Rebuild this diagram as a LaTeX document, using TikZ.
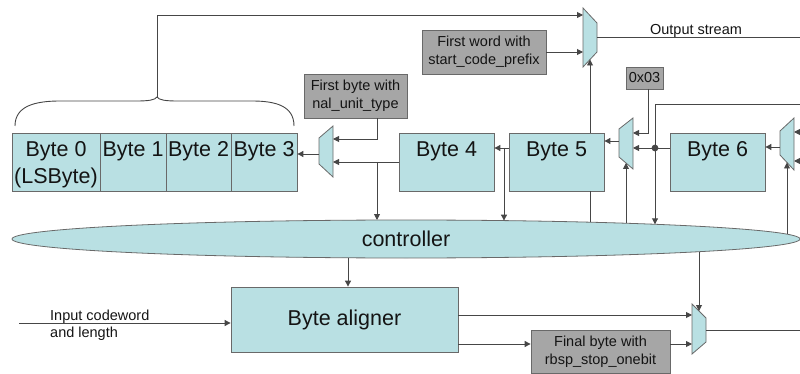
\documentclass[tikz,border=0pt]{standalone}
\usepackage{fontspec}
\setmainfont{Liberation Sans}
\usetikzlibrary{shapes.geometric,arrows.meta}
\definecolor{cfill}{RGB}{185,224,227}
\definecolor{gfill}{RGB}{166,166,166}
\definecolor{bline}{RGB}{105,105,105}
\definecolor{wline}{RGB}{70,70,70}
\definecolor{tcol}{RGB}{20,20,20}
\newcommand\bigf{\fontsize{21.5}{27}\selectfont}
\newcommand\smf{\fontsize{14.5}{18.5}\selectfont}
\begin{document}
\begin{tikzpicture}[x=1pt,y=-1pt,
  cbox/.style={draw=bline, fill=cfill, line width=0.8pt, inner sep=0pt},
  gbox/.style={draw=bline, fill=gfill, line width=0.8pt, inner sep=0pt, align=center, font=\smf, text=tcol},
  btxt/.style={font=\bigf, anchor=base, inner sep=0pt, text=tcol},
  stxt/.style={font=\smf, inner sep=0pt, text=tcol},
  wire/.style={draw=wline, line width=0.9pt},
  arr/.style={wire, -{Triangle[length=6pt,width=6pt]}},
  muxs/.style={draw=bline, fill=cfill, line width=0.8pt, line join=miter}
]
\useasboundingbox (0,0) rectangle (800,374);

% ---- byte registers
\node[cbox, minimum width=88pt, minimum height=58pt] (b0) at (56,162) {};
\node[cbox, minimum width=66pt, minimum height=58pt] (b1) at (133,162) {};
\node[cbox, minimum width=65pt, minimum height=58pt] (b2) at (198.5,162) {};
\node[cbox, minimum width=66pt, minimum height=58pt] (b3) at (264,162) {};
\node[cbox, minimum width=95pt, minimum height=58pt] (b4) at (446.5,162) {};
\node[cbox, minimum width=95pt, minimum height=58pt] (b5) at (556.5,162) {};
\node[cbox, minimum width=95pt, minimum height=58pt] (b6) at (717.5,162) {};
\node[btxt] (t0) at (56,157) {Byte 0};
\node[btxt] (t0b) at (56,184) {(LSByte)};
\node[btxt] (t1) at (133,157) {Byte 1};
\node[btxt] (t2) at (198.5,157) {Byte 2};
\node[btxt] (t3) at (264,157) {Byte 3};
\node[btxt] (t4) at (446.5,157) {Byte 4};
\node[btxt] (t5) at (556.5,157) {Byte 5};
\node[btxt] (t6) at (717.5,157) {Byte 6};

% ---- grey constant boxes
\node[gbox, minimum width=103pt, minimum height=44pt] (nal) at (355.5,96) {First byte with\\nal\_unit\_type};
\node[gbox, minimum width=124pt, minimum height=44pt] (fw) at (484,52) {First word with\\start\_code\_prefix};
\node[gbox, minimum width=37pt, minimum height=22pt] (ox) at (644.5,78) {0x03};
\node[gbox, minimum width=139pt, minimum height=43pt] (fin) at (600.5,351.5) {Final byte with\\rbsp\_stop\_onebit};

% ---- controller and aligner
\node[ellipse, draw=bline, fill=cfill, line width=0.8pt, inner sep=0pt,
      minimum width=788pt, minimum height=38pt, font=\bigf, text=tcol] (ctrl) at (406,239) {controller};
\node[cbox, minimum width=227pt, minimum height=65pt, font=\bigf, text=tcol] (al) at (344.5,319.5) {Byte aligner};

% ---- multiplexers
\draw[muxs] (583,8) -- (597,23) -- (597,52) -- (583,67) -- cycle;
\draw[muxs] (333,126) -- (333,177) -- (319,164) -- (319,138) -- cycle;
\draw[muxs] (633,118) -- (633,169) -- (619,157) -- (619,129) -- cycle;
\draw[muxs] (794,118) -- (794,170) -- (780,155) -- (780,131) -- cycle;
\draw[muxs] (692,304) -- (706,318) -- (706,342) -- (692,354) -- cycle;

% ---- ports and points
\coordinate (mT1) at (583,15);  \coordinate (mT2) at (583,52);
\coordinate (mTo) at (597,37);  \coordinate (mTb) at (590,59.5);
\coordinate (mA1) at (333,139); \coordinate (mA2) at (333,162);
\coordinate (mAo) at (319,154);
\coordinate (mB1) at (633,133); \coordinate (mB2) at (633,148);
\coordinate (mBo) at (619,141); \coordinate (mBb) at (626,163);
\coordinate (mC1) at (794,132); \coordinate (mC2) at (794,161);
\coordinate (mCo) at (780,147); \coordinate (mCb) at (787,162.5);
\coordinate (mD1) at (692,315); \coordinate (mD2) at (692,344);
\coordinate (mDo) at (706,330); \coordinate (mDt) at (699,311);
\coordinate (c377) at (377,220);   \coordinate (c504) at (504,220.6);
\coordinate (c590) at (590,222.2); \coordinate (c626) at (626,223.2);
\coordinate (c655) at (655,224.3); \coordinate (c787) at (787,234.2);
\coordinate (c348) at (348,257.8); \coordinate (c699) at (699,251.7);
\coordinate (outR) at (800,37);  \coordinate (topR) at (800,104);
\coordinate (inC1) at (800,132); \coordinate (inC2) at (800,161);
\coordinate (outD) at (800,330); \coordinate (inL) at (19,323);
\coordinate (brtip) at (157,97); \coordinate (dot) at (655,148);
\coordinate (oxp) at (648,89);

% ---- brace over bytes 0..3
\draw[wire] (15,126) .. controls (15,106) and (35,101) .. (60,101) -- (136,101)
  .. controls (149,101) and (155,100) .. (brtip)
  .. controls (159,100) and (165,101) .. (178,101) -- (252,101)
  .. controls (276,101) and (294,106) .. (294,126);

% ---- connectors
\draw[arr] (brtip) |- (mT1);
\draw[arr] (fw.east) -- (mT2);
\draw[wire] (mTo) -- (outR);
\draw[wire] (c590) -- (b5.south -| c590);
\draw[arr] (b5.north -| c590) -- (mTb);

\draw[arr] (nal.south -| c377) |- (mA1);
\draw[arr] (b4.west) -- (mA2);
\draw[arr] (b4.west -| c377) -- (c377);
\draw[arr] (mAo) -- (b3.east |- mAo);

\draw[arr] (b5.west |- dot) -- (b4.east |- dot);
\draw[arr] (c504 |- dot) -- (c504);
\draw[arr] (mBo) -- (b5.east |- mBo);
\draw[arr] (oxp) |- (mB1);
\draw[arr] (b6.west |- dot) -- (mB2);
\draw[arr] (topR) -| (c655);
\fill[wline] (dot) circle (3.4pt);
\draw[arr] (c626) -- (mBb);

\draw[arr] (mCo) -- (b6.east |- mCo);
\draw[arr] (inC1) -- (mC1);
\draw[arr] (inC2) -- (mC2);
\draw[arr] (c787) -- (mCb);

\draw[arr] (c348) -- (al.north -| c348);
\draw[arr] (inL) -- (al.west |- inL);
\draw[arr] (al.east |- mD1) -- (mD1);
\draw[arr] (al.east |- mD2) -- (fin.west |- mD2);
\draw[arr] (fin.east |- mD2) -- (mD2);
\draw[arr] (c699) -- (mDt);
\draw[wire] (mDo) -- (outD);

% ---- free labels
\node[stxt, anchor=base] (los) at (696,35) {Output stream};
\node[stxt, anchor=base west] (lin1) at (50,320) {Input codeword};
\node[stxt, anchor=base west] (lin2) at (50,337.5) {and length};
\end{tikzpicture}
\end{document}
